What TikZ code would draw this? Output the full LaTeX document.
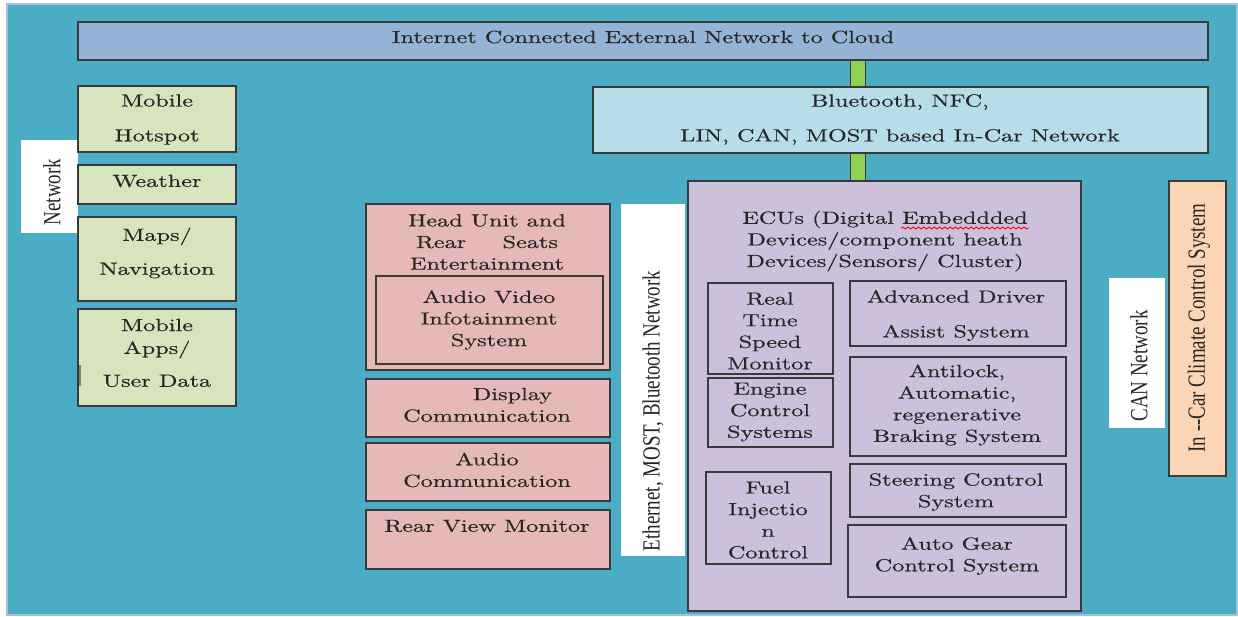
\documentclass[tikz,border=0pt]{standalone}
\usepackage{fontspec}
\newfontfamily\boxfont{Latin Modern Roman}[FakeBold=0.35]
\newfontfamily\sidefont{Liberation Serif}
\usepackage{tikz}
\usetikzlibrary{fit}
\usetikzlibrary{decorations.pathmorphing}

\definecolor{panelblue}{HTML}{4BACC6}
\definecolor{panelrim}{HTML}{A3C1D9}
\definecolor{cloudblue}{HTML}{95B3D7}
\definecolor{netblue}{HTML}{B7DEE8}
\definecolor{linkgreen}{HTML}{92D050}
\definecolor{ecupurple}{HTML}{CCC0DA}
\definecolor{mediapink}{HTML}{E6B9B8}
\definecolor{appgreen}{HTML}{D7E4BD}
\definecolor{climatepeach}{HTML}{FCD5B5}
\definecolor{rim}{HTML}{3A3A3A}

\tikzset{
  cellbox/.style={draw=rim, line width=0.6pt, inner sep=0pt, fill=#1},
  plainbox/.style={fill=white, draw=none, inner sep=0pt},
  txt/.style={font=\boxfont\fontsize{10}{12.3}\selectfont, align=center, xscale=1.38, inner sep=0pt, text=black!85},
  sidetxt/.style={font=\sidefont\fontsize{10.8}{13}\selectfont, rotate=90, yscale=1.3, inner sep=0pt, text=black!85},
  link/.style={draw=rim, line width=0.6pt, double=linkgreen, double distance=0.27cm}
}

\newcommand{\cellbox}[6]{\node[cellbox=#2, fit={(#3,#4) (#5,#6)}] (#1) {};}
\newcommand{\labltext}[4]{\node[txt] (#1) at (#2,#3) {#4};}
\newcommand{\lablside}[4]{\node[sidetxt] (#1) at (#2,#3) {#4};}

\begin{document}
\begin{tikzpicture}[x=0.02cm, y=-0.02cm]
        \useasboundingbox (0,0) rectangle (1238,616);
        \draw[panelrim, fill=panelblue, line width=0.8pt] (7,4) rectangle (1237,615);

        % cloud and in-car network
        \cellbox{cloud}{cloudblue}{78}{22}{1208}{60}
        \cellbox{btnet}{netblue}{593}{87}{1208}{153}
        \cellbox{ecu}{ecupurple}{688}{181}{1081}{611}

        % left column
        \node[plainbox, fit={(21,140) (78,233)}] (netbox) {};
        \cellbox{hotspot}{appgreen}{78}{86}{236}{152}
        \cellbox{weather}{appgreen}{78}{165}{236}{204}
        \cellbox{maps}{appgreen}{78}{217}{236}{301}
        \cellbox{apps}{appgreen}{78}{309}{236}{406}
        \draw[gray, line width=0.8pt] (80,365) -- (80,386);

        % media column
        \cellbox{headunit}{mediapink}{366}{204}{610}{370}
        \cellbox{avinfo}{mediapink}{376}{276}{603}{364}
        \cellbox{display}{mediapink}{366}{379}{610}{437}
        \cellbox{audio}{mediapink}{366}{443}{610}{501}
        \cellbox{rearview}{mediapink}{366}{510}{610}{569}
        \node[plainbox, fit={(621,204) (685,556)}] (etherbox) {};

        % ECU units
        \cellbox{speed}{ecupurple}{708}{283}{833}{374}
        \cellbox{engine}{ecupurple}{708}{378}{833}{447}
        \cellbox{fuel}{ecupurple}{706}{472}{831}{564}
        \cellbox{adas}{ecupurple}{850}{281}{1066}{346}
        \cellbox{abs}{ecupurple}{850}{357}{1066}{456}
        \cellbox{steer}{ecupurple}{850}{464}{1066}{517}
        \cellbox{gear}{ecupurple}{848}{525}{1066}{597}

        % right side
        \node[plainbox, fit={(1109,278) (1165,428)}] (canbox) {};
        \cellbox{climate}{climatepeach}{1169}{181}{1226}{476}

        % links
        \coordinate (bar) at (858,0);
        \draw[link] (cloud.south -| bar) -- (btnet.north -| bar);
        \draw[link] (btnet.south -| bar) -- (ecu.north -| bar);

        % labels
        \labltext{cloudtxt}{643}{37}{Internet Connected External Network to Cloud}
        \labltext{btnettxt}{900}{119.5}{Bluetooth, NFC,\\[7.5pt]LIN, CAN, MOST based In-Car Network}
        \labltext{hotspottxt}{157}{119.5}{Mobile\\[7.5pt]Hotspot}
        \labltext{weathertxt}{157}{181}{Weather}
        \labltext{mapstxt}{157}{253}{Maps/\\[7pt]Navigation}
        \labltext{appstxt}{157}{353}{Mobile\\[0.7pt]Apps/\\[6.4pt]User Data}
        \labltext{headunittxt}{487}{242}{Head Unit and\\Rear\hspace{15pt}Seats\\Entertainment}
        \labltext{avinfotxt}{489}{320}{Audio Video\\Infotainment\\System}
        \labltext{displaytxt}{487}{405}{\hspace*{21pt}Display\\Communication}
        \labltext{audiotxt}{487}{470}{Audio\\Communication}
        \labltext{rearviewtxt}{487}{526}{Rear View Monitor}
        \labltext{ecutxt}{885}{241}{ECUs (Digital Embeddded\\Devices/component heath\\Devices/Sensors/ Cluster)}
        \labltext{speedtxt}{770}{331}{Real\\Time\\Speed\\Monitor}
        \labltext{enginetxt}{770}{412}{Engine\\Control\\Systems}
        \labltext{fueltxt}{768}{520}{Fuel\\Injectio\\n\\Control}
        \labltext{adastxt}{956}{315.5}{Advanced Driver\\[7.5pt]Assist System}
        \labltext{abstxt}{957}{405}{Antilock,\\Automatic,\\regenerative\\Braking System}
        \labltext{steertxt}{956}{492}{Steering Control\\System}
        \labltext{geartxt}{957}{556}{Auto Gear\\Control System}
        \draw[red, line width=0.5pt, decorate, decoration={snake, amplitude=0.6pt, segment length=3pt}] (901,228) -- (1029,228);

        % network names
        \lablside{nettxt}{52}{192}{Network}
        \lablside{ethertxt}{653}{411}{Ethernet, MOST, Bluetooth Network}
        \lablside{cantxt}{1139}{366}{CAN Network}
        \lablside{climatetxt}{1199}{328}{In --Car Climate Control System}
\end{tikzpicture}
\end{document}
